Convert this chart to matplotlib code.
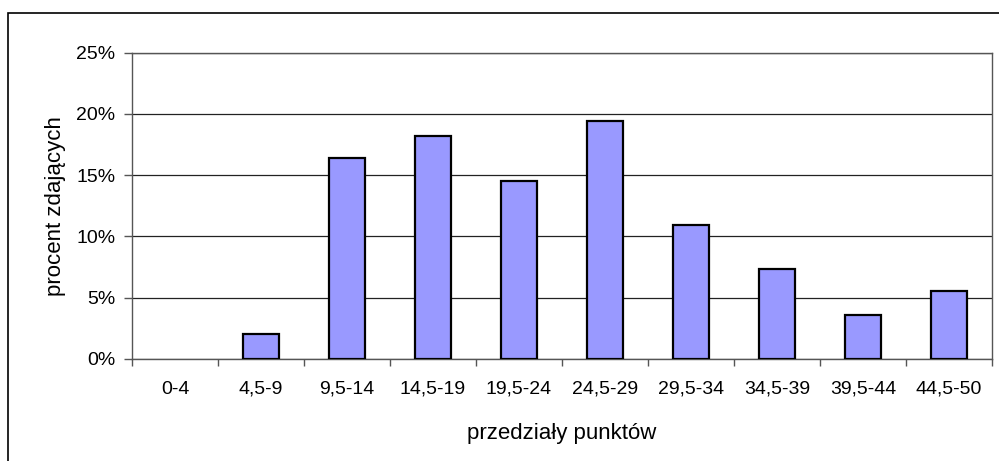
import matplotlib.pyplot as plt
from matplotlib.patches import Rectangle
from matplotlib.ticker import FuncFormatter, MultipleLocator

# przedziały punktów i procent zdających
przedzialy = ['0-4', '4,5-9', '9,5-14', '14,5-19', '19,5-24',
              '24,5-29', '29,5-34', '34,5-39', '39,5-44', '44,5-50']
procent = [0.0, 2.0, 16.4, 18.2, 14.5, 19.4, 10.9, 7.3, 3.6, 5.5]

plt.rcParams['font.family'] = ['Liberation Sans', 'DejaVu Sans']

fig = plt.figure(figsize=(9.99, 4.61), dpi=100)
ax = fig.add_axes([0.1321, 0.2219, 0.8609, 0.6638])

# ramka wykresu (przycięta z prawej i z dołu)
fig.patches.append(Rectangle((8 / 999, -0.1), 1.2, 1 - 13 / 461 + 0.1,
                             transform=fig.transFigure, fill=False,
                             edgecolor='black', linewidth=1.2))

x = range(len(przedzialy))
# słupek o wartości 0 nie ma obramowania
ax.bar(x, procent, width=0.41, color='#9999FF', edgecolor='black',
       linewidth=[1.6 if v > 0 else 0 for v in procent], zorder=3)

ax.set_xlim(-0.5, len(przedzialy) - 0.5)
ax.set_ylim(0, 25)
ax.yaxis.set_major_locator(MultipleLocator(5))
ax.yaxis.set_major_formatter(FuncFormatter(lambda v, p: f'{v:.0f}%'))
ax.grid(axis='y', color='#222222', linewidth=0.9, zorder=0)

ax.set_xticks(list(x))
ax.set_xticklabels(przedzialy)
ax.set_xticks([i - 0.5 for i in range(len(przedzialy) + 1)], minor=True)
ax.tick_params(axis='x', which='major', length=0, pad=16, labelsize=14)
ax.tick_params(axis='x', which='minor', length=5, width=1, color='#555555')
ax.tick_params(axis='y', length=6, width=1, color='#555555', labelsize=14, pad=6)

for s in ax.spines.values():
    s.set_color('#555555')
    s.set_linewidth(1)

ax.set_xlabel('przedziały punktów', fontsize=16, labelpad=18)
ax.set_ylabel('procent zdających', fontsize=16, labelpad=7)

fig.savefig('out.png', dpi=100)
